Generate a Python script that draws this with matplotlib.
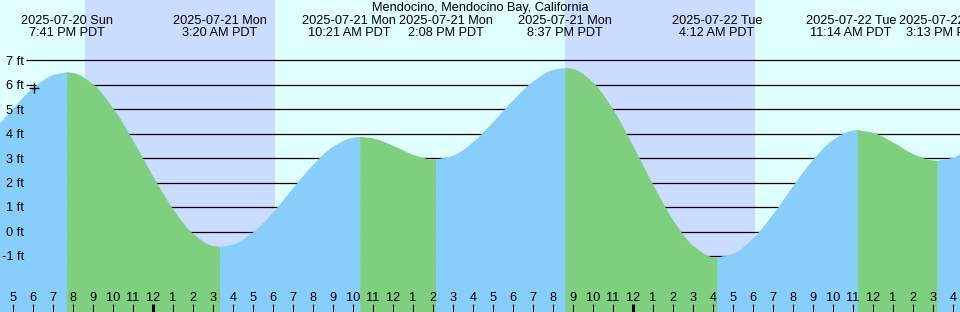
import matplotlib
matplotlib.use("Agg")
import matplotlib.pyplot as plt
import matplotlib.transforms as mtransforms
import numpy as np
import pandas as pd

plt.rcParams['font.family'] = ['Liberation Sans', 'DejaVu Sans']

# ---------------- data ----------------
title = "Mendocino, Mendocino Bay, California"
extreme_times = ["2025-07-20 19:41", "2025-07-21 03:20", "2025-07-21 10:21",
                 "2025-07-21 14:08", "2025-07-21 20:37", "2025-07-22 04:12",
                 "2025-07-22 11:14", "2025-07-22 15:13"]
extreme_heights = [6.52, -0.62, 3.88, 2.95, 6.70, -1.06, 4.15, 2.90]

hourly_start = "2025-07-20 16:00"
hourly_heights = [4.13, 5.04, 5.88, 6.41, 6.49, 6.01, 5.02, 3.69,
                  2.23, 0.89, -0.10, -0.59, -0.52, -0.02, 0.80, 1.79,
                  2.74, 3.48, 3.85, 3.81, 3.51, 3.14, 2.95, 3.11,
                  3.67, 4.49, 5.38, 6.15, 6.62, 6.65, 6.08, 4.96,
                  3.47, 1.88, 0.44, -0.59, -1.05, -0.90, -0.26, 0.72,
                  1.87, 2.95, 3.76, 4.14, 4.04, 3.64, 3.17, 2.91,
                  3.03, 3.56]

sunsets = ["2025-07-20 20:36", "2025-07-21 20:36"]
sunrises = ["2025-07-21 06:05", "2025-07-22 06:05"]

now_time = "2025-07-20 18:03"
now_height = 5.86

grid_levels = [-1, 0, 1, 2, 3, 4, 5, 6, 7]
grid_labels = ["-1 ft", "0 ft", "1 ft", "2 ft", "3 ft", "4 ft", "5 ft", "6 ft", "7 ft"]

# ---------------- style ----------------
DAY = "#e0ffff"
NIGHT = "#cadcff"
FLOOD = "#87cefa"
EBB = "#7ecf7e"
FS = 9.2

W, H = 960, 312
ORIGIN = pd.Timestamp("2025-07-21 00:00")
MID_PX = 153.0      # pixel of the midnight tick
PX_PER_H = 20.0
Y0_PX = 231.5       # pixel of 0 ft
PX_PER_FT = 24.45


def hours(ts):
    return (pd.to_datetime(ts) - ORIGIN) / pd.Timedelta(hours=1)


def px_to_h(px):
    return (px - MID_PX) / PX_PER_H


def px_to_ft(py):
    return (Y0_PX - py) / PX_PER_FT


def smooth_line(x, y, n=12):
    """Monotone cubic (Fritsch-Carlson) rendering of a polyline for a smooth drawn curve."""
    x = np.asarray(x, float)
    y = np.asarray(y, float)
    hseg = np.diff(x)
    d = np.diff(y) / hseg
    m = np.zeros_like(y)
    m[0], m[-1] = d[0], d[-1]
    for k in range(1, len(y) - 1):
        if d[k - 1] * d[k] <= 0:
            m[k] = 0.0
        else:
            w1 = 2 * hseg[k] + hseg[k - 1]
            w2 = hseg[k] + 2 * hseg[k - 1]
            m[k] = (w1 + w2) / (w1 / d[k - 1] + w2 / d[k])
    xs, ys = [], []
    for k in range(len(x) - 1):
        s = np.linspace(0, 1, n, endpoint=(k == len(x) - 2))
        h00 = 2 * s**3 - 3 * s**2 + 1
        h10 = s**3 - 2 * s**2 + s
        h01 = -2 * s**3 + 3 * s**2
        h11 = s**3 - s**2
        xs.append(x[k] + s * hseg[k])
        ys.append(h00 * y[k] + h10 * hseg[k] * m[k] + h01 * y[k + 1] + h11 * hseg[k] * m[k + 1])
    return np.concatenate(xs), np.concatenate(ys)


t_ext = np.array([hours(t) for t in extreme_times])
h_ext = np.array(extreme_heights)
t_hr = np.array(hours(pd.date_range(hourly_start, periods=len(hourly_heights), freq="h")))
h_hr = np.array(hourly_heights)

t_all = np.concatenate([t_hr, t_ext])
h_all = np.concatenate([h_hr, h_ext])
order = np.argsort(t_all)
t_all, h_all = t_all[order], h_all[order]

fig = plt.figure(figsize=(W / 100, H / 100), dpi=100)
fig.patch.set_facecolor(DAY)
ax = fig.add_axes([0, 0, 1, 1])
ax.set_facecolor(DAY)
for s in ax.spines.values():
    s.set_visible(False)
ax.set_xticks([])
ax.set_yticks([])
xl, xr = px_to_h(0), px_to_h(W)
yb, yt = px_to_ft(H), px_to_ft(0)
ax.set_xlim(xl, xr)
ax.set_ylim(yb, yt)

# night shading
for ss, sr in zip(sunsets, sunrises):
    ax.axvspan(hours(ss), hours(sr), color=NIGHT, lw=0, zorder=0)

# grid lines
ax.hlines(grid_levels, px_to_h(26), xr, color="black", lw=0.9, zorder=1)

# tide fill, split at extremes
bounds = [t_all[0]] + list(t_ext) + [t_all[-1]]
for a, b in zip(bounds[:-1], bounds[1:]):
    m = (t_all >= a - 1e-9) & (t_all <= b + 1e-9)
    tt, hh = smooth_line(t_all[m], h_all[m])
    col = FLOOD if hh[-1] > hh[0] else EBB
    ax.fill_between(tt, hh, yb, color=col, lw=0.4, edgecolor=col, zorder=2)

# now marker
ax.plot([hours(now_time)], [now_height], marker="+", color="black",
        ms=7.5, mew=1.0, zorder=5)

# pixel transform (top-left origin)
pix = mtransforms.Affine2D().scale(1 / W, -1 / H).translate(0, 1) + fig.transFigure
xdata_ypix = mtransforms.blended_transform_factory(ax.transData, pix)

# y labels
for lv, lab in zip(grid_levels, grid_labels):
    ypx = Y0_PX - PX_PER_FT * lv
    fig.text(24, ypx + 4.4, lab, transform=pix, ha="right", va="baseline",
             fontsize=FS, color="black", zorder=6)

# hour ticks and labels
tick_times = pd.date_range("2025-07-20 17:00", "2025-07-22 16:00", freq="h")
for ts in tick_times:
    hx = hours(ts)
    hod = ts.hour % 12
    lab = str(12 if hod == 0 else hod)
    ax.text(hx, 301, lab, transform=xdata_ypix, ha="center", va="baseline",
            fontsize=FS, color="black", zorder=6)
    lw = 3.0 if ts.hour == 0 else 1.0
    ax.plot([hx, hx], [303.5, 312], transform=xdata_ypix, color="black",
            lw=lw * 0.72, solid_capstyle="butt", zorder=6)

# title
fig.text(480, 11.5, title, transform=pix, ha="center", va="baseline",
         fontsize=FS, color="black")

# extreme labels with overlap resolution
centers = [ax.transData.transform((t, 0))[0] for t in t_ext]
line1 = [pd.Timestamp(t).strftime("%Y-%m-%d %a") for t in extreme_times]
line2 = []
for t in extreme_times:
    ts = pd.Timestamp(t)
    hr = ts.hour % 12
    hr = 12 if hr == 0 else hr
    line2.append(f"{hr}:{ts.minute:02d} {'AM' if ts.hour < 12 else 'PM'} PDT")

fig.canvas.draw()
renderer = fig.canvas.get_renderer()
widths = []
for a, b in zip(line1, line2):
    tmp1 = fig.text(0, 0, a, fontsize=FS)
    tmp2 = fig.text(0, 0, b, fontsize=FS)
    widths.append(max(tmp1.get_window_extent(renderer).width,
                      tmp2.get_window_extent(renderer).width))
    tmp1.remove()
    tmp2.remove()

gap = 3.0
centers = list(centers)
for _ in range(5):
    for i in range(len(centers) - 1):
        right = centers[i] + widths[i] / 2
        left = centers[i + 1] - widths[i + 1] / 2
        ov = right + gap - left
        if ov > 0:
            centers[i] -= ov / 2
            centers[i + 1] += ov / 2

for c, a, b in zip(centers, line1, line2):
    fig.text(c, 24, a, transform=pix, ha="center", va="baseline",
             fontsize=FS, color="black")
    fig.text(c, 36, b, transform=pix, ha="center", va="baseline",
             fontsize=FS, color="black")

fig.savefig("out.png", dpi=100, facecolor=DAY)
